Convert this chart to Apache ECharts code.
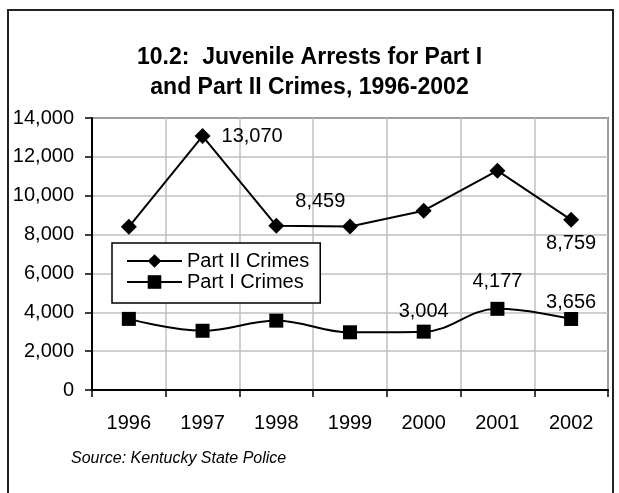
<!DOCTYPE html>
<html>
<head>
<meta charset="utf-8">
<script src="https://cdn.jsdelivr.net/npm/echarts@6/dist/echarts.min.js"></script>
<style>
  html, body { margin: 0; padding: 0; background: #fff; }
  #chart { width: 619px; height: 493px; }
</style>
</head>
<body>
<div id="chart"></div>
<script>
// Juvenile arrests in Kentucky, 1996-2002
const years = ['1996', '1997', '1998', '1999', '2000', '2001', '2002'];
const partII = [8400, 13070, 8459, 8420, 9230, 11290, 8759];
const partI = [3660, 3050, 3570, 2970, 3004, 4177, 3656];
// which points carry a value label
const partIILabelled = [false, true, true, false, false, false, true];
const partILabelled = [false, false, false, false, true, true, true];

const FONT = 'Liberation Sans, Arial, sans-serif';
const fmt = v => v.toLocaleString('en-US');

function labelledData(values, flags, labelFor) {
  return values.map((v, i) => flags[i]
    ? { value: v, label: Object.assign({ show: true }, labelFor(i)) }
    : v);
}

const partIILabels = {
  1: { position: 'right', distance: 11, offset: [0, 0] },
  2: { position: 'right', distance: 11, offset: [0, -24] },
  6: { position: 'bottom', distance: 6 }
};
const partILabels = {
  4: { position: 'top', distance: 3 },
  5: { position: 'top', distance: 10 },
  6: { position: 'top', distance: -1 }
};

const chart = echarts.init(document.getElementById('chart'), null, { renderer: 'canvas' });
chart.setOption({
  backgroundColor: '#fff',
  animation: false,
  textStyle: { fontFamily: FONT, color: '#000' },
  title: {
    text: '10.2:  Juvenile Arrests for Part I\nand Part II Crimes, 1996-2002',
    left: 'center',
    top: 38,
    textStyle: { fontFamily: FONT, fontSize: 23, fontWeight: 'bold', color: '#000', lineHeight: 30 }
  },
  graphic: [
    {
      type: 'rect',
      shape: { x: 8, y: 10, width: 605, height: 500 },
      style: { fill: 'none', stroke: '#222', lineWidth: 2 },
      silent: true
    },
    {
      type: 'text',
      left: 71,
      top: 451,
      style: {
        text: 'Source: Kentucky State Police',
        font: 'italic 16px ' + FONT,
        fill: '#000'
      }
    }
  ],
  legend: {
    orient: 'vertical',
    left: 112,
    top: 243,
    padding: [8, 11, 11, 14],
    itemGap: 1,
    itemWidth: 55,
    itemHeight: 17,
    borderColor: '#000',
    borderWidth: 1.5,
    backgroundColor: '#fff',
    textStyle: { fontFamily: FONT, fontSize: 20, lineHeight: 20, color: '#000', padding: [0, 0, 0, 0] },
    data: ['Part II Crimes', 'Part I Crimes']
  },
  grid: {
    left: 92, right: 11, top: 118, bottom: 103,
    show: true,
    borderColor: '#000',
    borderWidth: 1.5
  },
  xAxis: {
    type: 'category',
    data: years,
    boundaryGap: true,
    axisLine: { lineStyle: { color: '#000', width: 2 } },
    axisTick: { show: true, length: 7, lineStyle: { color: '#000', width: 1.5 } },
    axisLabel: { fontFamily: FONT, fontSize: 20, color: '#000', margin: 23 },
    splitLine: { show: true, lineStyle: { color: '#c0c0c0', width: 1.5 } }
  },
  yAxis: {
    type: 'value',
    min: 0,
    max: 14000,
    interval: 2000,
    axisLine: { show: true, lineStyle: { color: '#000', width: 2 } },
    axisTick: { show: true, length: 7, lineStyle: { color: '#000', width: 1.5 } },
    axisLabel: { fontFamily: FONT, fontSize: 20, color: '#000', margin: 18, formatter: fmt },
    splitLine: { show: true, lineStyle: { color: '#c0c0c0', width: 1.5 } }
  },
  series: [
    {
      name: 'Part II Crimes',
      type: 'line',
      symbol: 'diamond',
      symbolSize: 16,
      itemStyle: { color: '#000' },
      lineStyle: { color: '#000', width: 2 },
      label: { fontFamily: FONT, fontSize: 20, color: '#000', formatter: p => fmt(p.value) },
      data: labelledData(partII, partIILabelled, i => partIILabels[i])
    },
    {
      name: 'Part I Crimes',
      type: 'line',
      symbol: 'rect',
      symbolSize: 14,
      smooth: 0.4,
      itemStyle: { color: '#000' },
      lineStyle: { color: '#000', width: 2 },
      label: { fontFamily: FONT, fontSize: 20, color: '#000', formatter: p => fmt(p.value) },
      data: labelledData(partI, partILabelled, i => partILabels[i])
    }
  ]
});
</script>
</body>
</html>
